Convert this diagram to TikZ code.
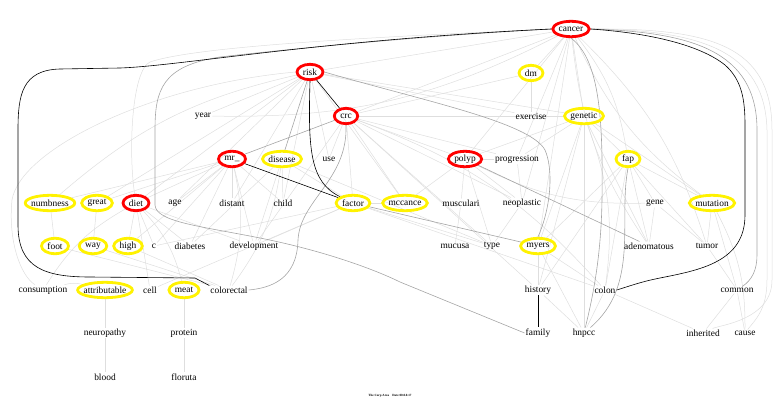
\documentclass[tikz,border=0pt]{standalone}
\usepackage{fontspec}
\setmainfont{Liberation Serif}
\usetikzlibrary{shapes.geometric,calc}
\definecolor{lg}{RGB}{222,222,222}
\definecolor{mg}{RGB}{165,165,165}
\definecolor{ylw}{RGB}{255,242,0}
\definecolor{rd}{RGB}{255,0,0}
\pgfdeclarelayer{bg}
\pgfsetlayers{bg,main}
\newcommand\ringed[4]{%
  \node[lbl] (#1-t) at (#2) {#3};
  \path let \p1=($(#1-t.east)-(#1-t.west)$) in (#2) node[ringnode, draw=#4, minimum width={\x1+9.5pt}] (#1) {};
}
\begin{document}
\begin{tikzpicture}[x=1pt,y=-1pt,
  lbl/.style={font=\fontsize{9.4}{11}\selectfont, inner sep=1pt},
  ringnode/.style={ellipse, inner sep=0pt, minimum height=15.4pt, line width=2.8pt},
  le/.style={draw=lg, line width=0.5pt},
  me/.style={draw=mg, line width=0.6pt},
  be/.style={draw=black, line width=0.6pt}]
\useasboundingbox (0,0) rectangle (780,407);
% ring nodes
\ringed{cancer}{571,29}{cancer}{rd}
\ringed{risk}{310,72}{risk}{rd}
\ringed{dm}{531,73}{dm}{ylw}
\ringed{crc}{346,116}{crc}{rd}
\ringed{genetic}{584,116}{genetic}{ylw}
\ringed{mr}{232,159}{mr\_}{rd}
\ringed{disease}{282,159}{disease}{ylw}
\ringed{polyp}{465,159}{polyp}{rd}
\ringed{fap}{628,159}{fap}{ylw}
\ringed{numbness}{50,203}{numbness}{ylw}
\ringed{great}{97,203}{great}{ylw}
\ringed{diet}{136,203}{diet}{rd}
\ringed{factor}{353,203}{factor}{ylw}
\ringed{mccance}{405,203}{mccance}{ylw}
\ringed{mutation}{712,203}{mutation}{ylw}
\ringed{foot}{55,246}{foot}{ylw}
\ringed{way}{93,246}{way}{ylw}
\ringed{high}{128,246}{high}{ylw}
\ringed{myers}{538,246}{myers}{ylw}
\ringed{attributable}{105,290}{attributable}{ylw}
\ringed{meat}{184,290}{meat}{ylw}
% plain nodes
\node[lbl] (year) at (203,116) {year};
\node[lbl] (exercise) at (531,116) {exercise};
\node[lbl] (use) at (329,159) {use};
\node[lbl] (progression) at (517,159) {progression};
\node[lbl] (age) at (175,203) {age};
\node[lbl] (distant) at (232,203) {distant};
\node[lbl] (child) at (283,203) {child};
\node[lbl] (musculari) at (461,203) {musculari};
\node[lbl] (neoplastic) at (522,203) {neoplastic};
\node[lbl] (gene) at (655,203) {gene};
\node[lbl] (c) at (154,246) {c};
\node[lbl] (diabetes) at (190,246) {diabetes};
\node[lbl] (development) at (254,246) {development};
\node[lbl] (mucusa) at (455,246) {mucusa};
\node[lbl] (type) at (492,246) {type};
\node[lbl] (adenomatous) at (649,246) {adenomatous};
\node[lbl] (tumor) at (707,246) {tumor};
\node[lbl] (consumption) at (43,290) {consumption};
\node[lbl] (cell) at (150,290) {cell};
\node[lbl] (colorectal) at (229,290) {colorectal};
\node[lbl] (history) at (538,290) {history};
\node[lbl] (colon) at (605,290) {colon};
\node[lbl] (common) at (737,290) {common};
\node[lbl] (neuropathy) at (105,333) {neuropathy};
\node[lbl] (protein) at (184,333) {protein};
\node[lbl] (family) at (538,333) {family};
\node[lbl] (hnpcc) at (584,333) {hnpcc};
\node[lbl] (inherited) at (703,333) {inherited};
\node[lbl] (cause) at (745,333) {cause};
\node[lbl] (blood) at (105,377) {blood};
\node[lbl] (floruta) at (184,377) {floruta};
\node[font=\fontsize{3.2}{4}\selectfont\bfseries, inner sep=0pt] (caption) at (390,396) {The Corp Area\quad Date 00.0.0.17};
\begin{pgfonlayer}{bg}
% light straight edges
\foreach \a/\b in {cancer/risk, cancer/crc, cancer/dm, cancer/genetic, cancer/polyp, cancer/myers, cancer/progression, cancer/neoplastic,
  risk/year, risk/great, risk/age, risk/distant, risk/use, risk/diet, risk/mccance, risk/genetic, risk/exercise, risk/child,
  crc/use, crc/polyp, crc/mccance, crc/neoplastic, crc/progression, crc/genetic, crc/type, crc/development, crc/factor, crc/history,
  mr/age, mr/distant, mr/diabetes, mr/c, mr/numbness, mr/great, mr/child, mr/development, mr/diet, mr/high,
  disease/child, disease/development, disease/diabetes, disease/type, disease/factor,
  diet/high, diet/c, diet/diabetes, diet/development, diet/cell,
  polyp/musculari, polyp/type, polyp/neoplastic, polyp/mccance, polyp/progression,
  progression/neoplastic, musculari/mucusa, neoplastic/type,
  genetic/myers, genetic/hnpcc, genetic/history, genetic/progression, genetic/fap, genetic/adenomatous, genetic/mutation, genetic/polyp,
  fap/gene, fap/adenomatous, fap/myers, fap/colon, fap/tumor, fap/mutation, fap/history,
  gene/adenomatous, gene/tumor, mutation/tumor, mutation/common, tumor/common,
  myers/history, myers/hnpcc, myers/colon, history/hnpcc, colon/hnpcc, colon/inherited, common/inherited, common/cause,
  factor/mccance, factor/colon, factor/development, factor/cell, factor/c, factor/type,
  numbness/foot, great/way, foot/colorectal, way/colorectal, high/colorectal,
  attributable/neuropathy, neuropathy/blood, meat/protein, protein/floruta, dm/exercise, dm/crc}
  \draw[le] (\a) -- (\b);
% light curved edges
\foreach \a/\b in {cancer/fap, cancer/tumor, cancer/year, mr/colorectal, disease/colorectal, diet/meat, crc/colon, genetic/colon, mutation/cause}
  \draw[le] (\a) to[bend left=14] (\b);
\foreach \a/\b in {cancer/mutation, cancer/adenomatous, risk/numbness, diet/consumption, attributable/consumption, polyp/gene}
  \draw[le] (\a) to[bend right=14] (\b);
\draw[le] (cancer.west) .. controls (400,36) and (200,45) .. (150,62) .. controls (132,70) and (128,150) .. (diet);
\draw[le] (risk.west) .. controls (150,85) and (20,150) .. (12,200) .. controls (8,240) and (20,275) .. (consumption);
\draw[le] (cancer.east) .. controls (700,30) and (765,50) .. (767,130) -- (767,280) .. controls (767,310) and (755,320) .. (cause);
\draw[le] (cancer.east) .. controls (710,28) and (772,45) .. (772,130) -- (772,280) .. controls (772,320) and (720,325) .. (inherited);
% mid gray edges
\draw[me] (cancer.south) .. controls (600,60) and (603,120) .. (602,200) .. controls (601,260) and (592,300) .. (hnpcc);
\draw[me] (cancer.west) .. controls (420,36) and (280,50) .. (220,57) .. controls (162,66) and (155,90) .. (155,130) -- (155,205) .. controls (156,222) and (200,226) .. (260,238) .. controls (330,252) and (380,272) .. (400,282) -- (family.west);
\draw[me] (cancer.east) .. controls (690,32) and (757,50) .. (757,130) -- (757,255) .. controls (757,270) and (752,280) .. (common);
\draw[me] (risk.east) .. controls (420,100) and (530,122) .. (545,150) .. controls (553,168) and (552,205) .. (myers.north);
\draw[me] (polyp) -- (adenomatous);
\draw[me] (factor) -- (myers);
\draw[me] (crc) -- (mr);
\draw[me] (risk) -- (disease);
\draw[me] (crc.south) .. controls (348,180) and (300,200) .. (298,240) .. controls (297,280) and (270,288) .. (colorectal.east);
\draw[me] (fap.south) .. controls (618,220) and (640,285) .. (hnpcc);
% black edges
\draw[be] (risk) -- (crc);
\draw[be] (risk.south) .. controls (308,150) and (310,182) .. (factor);
\draw[be] (mr) -- (factor);
\draw[be] (history) -- (family);
\draw[be] (cancer.west) .. controls (320,40) and (180,66) .. (120,68) -- (60,69) .. controls (22,70) and (18,95) .. (18,130) -- (18,225) .. controls (18,268) and (45,277) .. (90,277) -- (195,278) -- (colorectal.north west);
\draw[be] (cancer.east) .. controls (650,33) and (700,45) .. (725,65) .. controls (742,80) and (745,100) .. (745,125) -- (745,215) .. controls (745,262) and (700,270) .. (660,278) .. controls (640,282) and (630,286) .. (colon.east);
\end{pgfonlayer}
\end{tikzpicture}
\end{document}
